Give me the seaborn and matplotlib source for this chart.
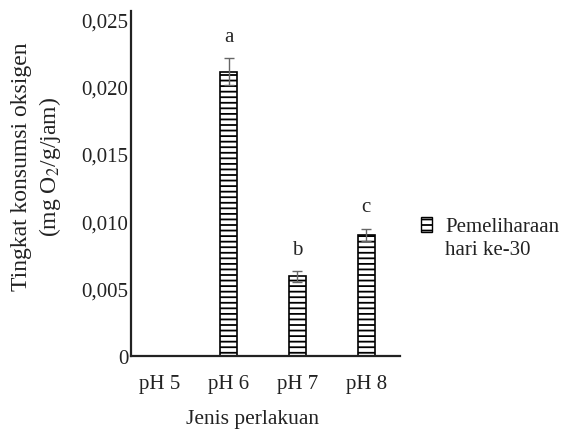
import matplotlib
matplotlib.use("Agg")
import matplotlib.pyplot as plt
from matplotlib.patches import Patch
import seaborn as sns
import pandas as pd

# data
treatments = ["pH 5", "pH 6", "pH 7", "pH 8"]
consumption = [0.0, 0.0211, 0.0059, 0.0090]
errors = [0.0, 0.0010, 0.0004, 0.00045]
letters = ["", "a", "b", "c"]
yticks = [0, 0.005, 0.010, 0.015, 0.020, 0.025]
ytick_labels = ["0", "0,005", "0,010", "0,015", "0,020", "0,025"]

sns.set_style("white")
plt.rcParams["font.family"] = ["Liberation Serif", "DejaVu Serif"]
plt.rcParams["mathtext.fontset"] = "stix"
plt.rcParams["hatch.linewidth"] = 1.3

df = pd.DataFrame({"perlakuan": treatments, "konsumsi": consumption})

fig = plt.figure(figsize=(5.66, 4.31), dpi=100)
ax = fig.add_axes([131 / 566, 1 - 357 / 431, 269 / 566, 345 / 431])

sns.barplot(data=df, x="perlakuan", y="konsumsi", ax=ax, color="white",
            width=0.25, edgecolor="black", linewidth=1.2, errorbar=None)
for p in ax.patches:
    p.set_hatch("---")

xs = [i for i in range(len(treatments)) if consumption[i] > 0]
ax.errorbar(xs, [consumption[i] for i in xs], yerr=[errors[i] for i in xs],
            fmt="none", ecolor="#666666", elinewidth=1.0, capsize=3.5, capthick=1.0)

for i in xs:
    ax.annotate(letters[i], (i, consumption[i] + errors[i]), xytext=(0, 9),
                textcoords="offset points", ha="center", va="bottom", fontsize=15)

ax.set_xlim(-0.42, 3.49)
ax.set_ylim(0, 0.0256)
ax.set_yticks(yticks)
ax.set_yticklabels(ytick_labels)
ax.tick_params(axis="both", length=0, labelsize=15, colors="#222222")
ax.tick_params(axis="x", pad=13)
ax.tick_params(axis="y", pad=2)

for s in ["top", "right"]:
    ax.spines[s].set_visible(False)
for s in ["left", "bottom"]:
    ax.spines[s].set_linewidth(1.6)
    ax.spines[s].set_color("#222222")

ax.set_xlabel("Jenis perlakuan", fontsize=15.5, color="#222222")
ax.xaxis.set_label_coords((253 - 131) / 269, -(410 - 357) / 345)
ax.set_ylabel("Tingkat konsumsi oksigen\n(mg O$_2$/g/jam)", fontsize=17,
              linespacing=1.25, color="#222222")
ax.yaxis.set_label_coords(-(131 - 63) / 269, (357 - 167) / 345)

handle = Patch(facecolor="white", edgecolor="black", hatch="---", linewidth=1.0)
leg = fig.legend([handle], ["Pemeliharaan\nhari ke-30"], loc="center left",
                 bbox_to_anchor=(421 / 566, 1 - 239 / 431), frameon=False, fontsize=15,
                 handlelength=0.55, handleheight=0.75, handletextpad=0.6,
                 borderpad=0, borderaxespad=0)
for t in leg.get_texts():
    t.set_linespacing(1.35)
    t.set_color("#222222")
# put the legend marker next to the first line of text
for col in leg._legend_handle_box.get_children():
    for entry in col.get_children():
        entry.align = "top"

fig.savefig("out.png", dpi=100)
plt.close(fig)
